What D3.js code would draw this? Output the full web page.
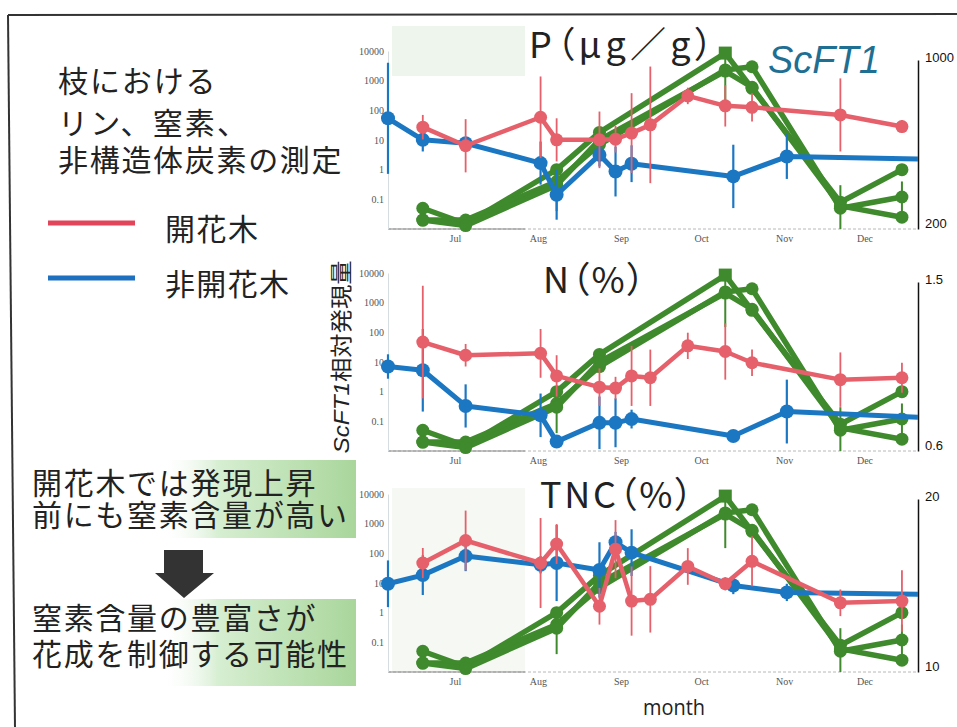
<!DOCTYPE html>
<html><head><meta charset="utf-8">
<script src="https://cdn.jsdelivr.net/npm/d3@7"></script>
<style>body{margin:0;background:#fff;}svg{display:block;}.palt{font-feature-settings:"palt" 1;}</style>
</head><body>
<svg id="c" width="957" height="727"></svg>
<script>
// ---------- data ----------
const monthLabels = ["Jul","Aug","Sep","Oct","Nov","Dec"];
const monthStarts = ["2013-07-01","2013-08-01","2013-09-01","2013-10-01","2013-11-01","2013-12-01"];
const leftTicks = [0.1, 1, 10, 100, 1000, 10000];
const leftTickLabels = ["0.1","1","10","100","1000","10000"];

const blueDates = ["2013-06-06","2013-06-19","2013-07-05","2013-08-02","2013-08-08","2013-08-24","2013-08-30","2013-09-05","2013-10-13","2013-11-02","2013-12-21"];
const redDates  = ["2013-06-19","2013-07-05","2013-08-02","2013-08-08","2013-08-24","2013-08-30","2013-09-05","2013-09-12","2013-09-26","2013-10-10","2013-10-20","2013-11-22","2013-12-15"];
const greenDates = ["2013-06-19","2013-07-05","2013-08-08","2013-08-24","2013-10-10","2013-10-20","2013-11-22","2013-12-15"];

// ScFT1 relative expression (left log axis), three trees
const green1 = [0.05, 0.015, 1.0, 18, 8500, 550, 0.08, 1.0];
const green2 = [0.02, 0.02, 0.4, 7, 2300, 2950, 0.05, 0.12];
const green3 = [0.02, 0.013, 0.3, 10, 2100, 600, 0.06, 0.025];
const green2Lo = [null, null, 0.04, null, 150, null, 0.01, 0.03];
const green2Hi = [null, null, 1.0, null, 8000, null, 0.3, 0.4];

// P (μg/g)
const pRed = [682, 594, 729, 622, 622, 625, 654, 693, 830, 783, 776, 740, 685];
const pRedSD = [58, 126, 193, 102, 134, 63, 189, 276, 39, 98, 67, 173, 31];
const pBlue = [724, 622, 606, 512, 362, 551, 472, 509, 449, 543, 531];
const pBlueSD = [263, 55, 27, 102, 118, 55, 118, 87, 150, 106, 0];
const pRightTicks = [200, 1000];
const pRightLabels = ["200", "1000"];

// N (%)
const nRed = [1.18, 1.11, 1.12, 1.00, 0.94, 0.935, 1.00, 0.99, 1.16, 1.13, 1.07, 0.98, 0.99];
const nRedSD = [0.30, 0.06, 0.13, 0.11, 0.10, 0.06, 0.16, 0.15, 0.07, 0.15, 0.07, 0.145, 0.08];
const nBlue = [1.05, 1.03, 0.84, 0.79, 0.65, 0.75, 0.75, 0.77, 0.68, 0.81, 0.78];
const nBlueSD = [0.065, 0.22, 0.115, 0.116, 0.02, 0.14, 0.13, 0.05, 0.02, 0.17, 0];
const nRightTicks = [0.6, 1.5];
const nRightLabels = ["0.6", "1.5"];

// TNC (%)
const tRed = [16.3, 17.6, 16.3, 17.4, 13.8, 17.1, 14.1, 14.2, 16.1, 15.1, 16.4, 14.0, 14.1];
const tRedSD = [0.87, 1.73, 2.6, 1.15, 1.06, 1.68, 2.0, 1.92, 1.06, 0.38, 1.44, 0.77, 1.78];
const tBlue = [15.1, 15.6, 16.7, 16.2, 16.3, 15.9, 17.5, 16.9, 15.0, 14.6, 14.5];
const tBlueSD = [1.35, 1.15, 0.87, 0.5, 2.2, 1.6, 0.6, 1.35, 0.5, 0.5, 0];
const tRightTicks = [10, 20];
const tRightLabels = ["10", "20"];

const titles = ["P（μg／g）", "N（%）", "TNC（%）"];

// ---------- layout / styles ----------
const RED = "#e5606b", BLUE = "#1c77c3", GREEN = "#3f8a2c";
const parse = d3.timeParse("%Y-%m-%d");
const svg = d3.select("#c");
const JP = "'Noto Sans CJK JP','Noto Sans',sans-serif";

const x = d3.scaleTime().domain([parse("2013-06-06"), parse("2013-12-21")]).range([388, 918]);

const panels = [
  {title: titles[0], top: 51, bottom: 229, rTop: 60, rDomain: pRightTicks, rLabels: pRightLabels, red: pRed, redSD: pRedSD, blue: pBlue, blueSD: pBlueSD, tx: 529, ty: 58, tw: 184},
  {title: titles[1], top: 273, bottom: 451, rTop: 282, rDomain: nRightTicks, rLabels: nRightLabels, red: nRed, redSD: nRedSD, blue: nBlue, blueSD: nBlueSD, tx: 543, ty: 293, tw: 102},
  {title: titles[2], top: 494, bottom: 672, rTop: 499, rDomain: tRightTicks, rLabels: tRightLabels, red: tRed, redSD: tRedSD, blue: tBlue, blueSD: tBlueSD, tx: 540, ty: 508, tw: 153}
];

// ---------- frame ----------
svg.append("path").attr("d","M8,15 L957,14").attr("stroke","#333").attr("stroke-width",2);
svg.append("path").attr("d","M8,15 L15,727").attr("stroke","#333").attr("stroke-width",2);

// faint background remnants
svg.append("rect").attr("x",392).attr("y",26).attr("width",133).attr("height",50).attr("fill","#eef5ed");
svg.append("rect").attr("x",392).attr("y",488).attr("width",133).attr("height",184).attr("fill","#f5f8f3");

const gDates = greenDates.map(parse), rDates = redDates.map(parse), bDates = blueDates.map(parse);

panels.forEach((p, pi) => {
  const y = d3.scaleLog().domain([0.01, 10000]).range([p.bottom, p.top]);
  const yR = d3.scaleLinear().domain(p.rDomain).range([p.bottom, p.rTop]);
  const g = svg.append("g");

  // bottom axis (dotted)
  g.append("line").attr("x1",388).attr("x2",918).attr("y1",p.bottom).attr("y2",p.bottom)
    .attr("stroke","#b8b8b8").attr("stroke-width",1).attr("stroke-dasharray","3,2");
  g.append("line").attr("x1",388).attr("x2",525).attr("y1",p.bottom).attr("y2",p.bottom)
    .attr("stroke","#888").attr("stroke-width",1.2);

  // left axis
  const la = g.append("g").attr("transform","translate(388,0)")
    .call(d3.axisLeft(y).tickValues(leftTicks).tickFormat((d,i)=>leftTickLabels[i]).tickSize(0).tickPadding(4));
  la.select(".domain").attr("stroke","#d5dde3");
  la.selectAll("text").attr("font-family","'Liberation Serif',serif").attr("font-size",10).attr("fill","#555");

  // month axis
  const ba = g.append("g").attr("transform",`translate(0,${p.bottom})`)
    .call(d3.axisBottom(x).tickValues(monthStarts.map(parse)).tickFormat((d,i)=>monthLabels[i]).tickSize(0).tickPadding(6));
  ba.select(".domain").remove();
  ba.selectAll("text").attr("font-family","'Liberation Serif',serif").attr("font-size",10).attr("fill","#555");

  // right axis
  const ra = g.append("g").attr("transform","translate(918,0)")
    .call(d3.axisRight(yR).tickValues(p.rDomain).tickFormat((d,i)=>p.rLabels[i]).tickSize(0).tickSizeOuter(0).tickPadding(7));
  ra.select(".domain").attr("stroke","#111").attr("stroke-width",1.5);
  ra.selectAll("text").attr("font-family","'Liberation Sans',Arial,sans-serif").attr("font-size",13).attr("fill","#111")
    .attr("dy",(d,i)=> i===0 ? "-0.1em" : "0.1em");

  // title
  g.append("text").attr("class","palt").attr("x",p.tx).attr("y",p.ty).attr("font-family",JP).attr("font-size",36)
    .attr("fill","#222").attr("textLength",p.tw).attr("lengthAdjust","spacing").text(p.title);

  // ---- green ScFT1 ----
  const gline = d3.line().x((d,i)=>x(gDates[i])).y(d=>y(d));
  [green1, green2, green3].forEach(s => {
    g.append("path").attr("d",gline(s)).attr("fill","none").attr("stroke",GREEN).attr("stroke-width",5.5).attr("stroke-linejoin","round");
  });
  green2.forEach((v,i)=>{
    if (green2Lo[i] !== null) {
      g.append("line").attr("x1",x(gDates[i])).attr("x2",x(gDates[i]))
        .attr("y1",y(green2Lo[i])).attr("y2",y(green2Hi[i])).attr("stroke",GREEN).attr("stroke-width",2);
    }
  });
  [green1, green2, green3].forEach((s,si) => {
    s.forEach((v,i)=>{
      if (si===0 && i===4) {
        g.append("rect").attr("x",x(gDates[i])-6.5).attr("y",y(v)-6.5).attr("width",13).attr("height",13).attr("fill",GREEN);
      } else {
        g.append("circle").attr("cx",x(gDates[i])).attr("cy",y(v)).attr("r",6.5).attr("fill",GREEN);
      }
    });
  });

  // ---- blue: non-flowering ----
  const bline = d3.line().x((d,i)=>x(bDates[i])).y(d=>yR(d));
  p.blue.forEach((v,i)=>{
    if (p.blueSD[i] > 0) {
      g.append("line").attr("x1",x(bDates[i])).attr("x2",x(bDates[i]))
        .attr("y1",yR(v - p.blueSD[i])).attr("y2",yR(v + p.blueSD[i])).attr("stroke",BLUE).attr("stroke-width",2.2);
    }
  });
  g.append("path").attr("d",bline(p.blue)).attr("fill","none").attr("stroke",BLUE).attr("stroke-width",5).attr("stroke-linejoin","round");
  p.blue.forEach((v,i)=>{
    if (i < p.blue.length - 1)
      g.append("circle").attr("cx",x(bDates[i])).attr("cy",yR(v)).attr("r",7).attr("fill",BLUE);
  });

  // ---- red: flowering ----
  const rline = d3.line().x((d,i)=>x(rDates[i])).y(d=>yR(d));
  p.red.forEach((v,i)=>{
    g.append("line").attr("x1",x(rDates[i])).attr("x2",x(rDates[i]))
      .attr("y1",yR(v - p.redSD[i])).attr("y2",yR(v + p.redSD[i])).attr("stroke",RED).attr("stroke-width",1.8);
  });
  g.append("path").attr("d",rline(p.red)).attr("fill","none").attr("stroke",RED).attr("stroke-width",4.5).attr("stroke-linejoin","round");
  p.red.forEach((v,i)=>{
    g.append("circle").attr("cx",x(rDates[i])).attr("cy",yR(v)).attr("r",6.5).attr("fill",RED);
  });
});

// ScFT1 label (top right)
svg.append("text").attr("x",768).attr("y",73).attr("font-family","'Liberation Sans',Arial,sans-serif")
  .attr("font-style","italic").attr("font-size",38).attr("fill","#1f6f93").text("ScFT1");

// y axis label
const yl = svg.append("text").attr("transform","translate(349,357) rotate(-90)")
  .attr("text-anchor","middle").attr("font-family",JP).attr("font-size",22).attr("fill","#222")
  .attr("textLength",193).attr("lengthAdjust","spacingAndGlyphs");
yl.append("tspan").attr("font-style","italic").attr("font-family","'Liberation Sans',Arial,sans-serif").text("ScFT1");
yl.append("tspan").text("相対発現量");

// month label
svg.append("text").attr("x",674).attr("y",715).attr("text-anchor","middle").attr("font-family","'Open Sans',sans-serif")
  .attr("font-size",22).attr("fill","#222").attr("textLength",62).attr("lengthAdjust","spacingAndGlyphs").text("month");

// ---------- left text (multi-line blocks as single text elements) ----------
const FS = 30;
function block(lines, centers, x0, charW) {
  const t = svg.append("text").attr("font-family",JP).attr("font-size",FS).attr("fill","#222");
  lines.forEach((s,i)=>{
    t.append("tspan").attr("x",x0).attr("y",centers[i] + 0.38*FS)
      .attr("textLength",s.length*charW).attr("lengthAdjust","spacing").text(s);
  });
}
const headLines = ["枝における", "リン、窒素、", "非構造体炭素の測定"];
block(headLines, [81, 123, 160], 58, 31.5);

// legend
const legendNames = ["開花木", "非開花木"];
const legendColors = ["#e2445a", "#1d6fc0"];
const legendY = [223, 278];
legendNames.forEach((t,i)=>{
  svg.append("line").attr("x1",48).attr("x2",135).attr("y1",legendY[i]).attr("y2",legendY[i])
    .attr("stroke",legendColors[i]).attr("stroke-width",5);
  svg.append("text").attr("x",165).attr("y",legendY[i] + 6 + 0.38*FS).attr("font-family",JP).attr("font-size",FS)
    .attr("fill","#222").attr("textLength",t.length*31).attr("lengthAdjust","spacing").text(t);
});

// green boxes
const defs = svg.append("defs");
const grad = defs.append("linearGradient").attr("id","gbox").attr("x1","0").attr("x2","1").attr("y1","0").attr("y2","0");
grad.append("stop").attr("offset","0").attr("stop-color","#ffffff").attr("stop-opacity",0);
grad.append("stop").attr("offset","0.3").attr("stop-color","#d6eed1");
grad.append("stop").attr("offset","1").attr("stop-color","#a9d69b");
svg.append("rect").attr("x",160).attr("y",460).attr("width",196).attr("height",78).attr("fill","url(#gbox)");
svg.append("rect").attr("x",160).attr("y",599).attr("width",196).attr("height",87).attr("fill","url(#gbox)");

block(["開花木では発現上昇", "前にも窒素含量が高い"], [483, 515], 32, 31.5);
block(["窒素含量の豊富さが", "花成を制御する可能性"], [618, 654], 32, 31.5);

// arrow
svg.append("path").attr("d","M164,550 H203 V573 H214 L184,598 L155,573 H164 Z").attr("fill","#333");
</script>
</body></html>
